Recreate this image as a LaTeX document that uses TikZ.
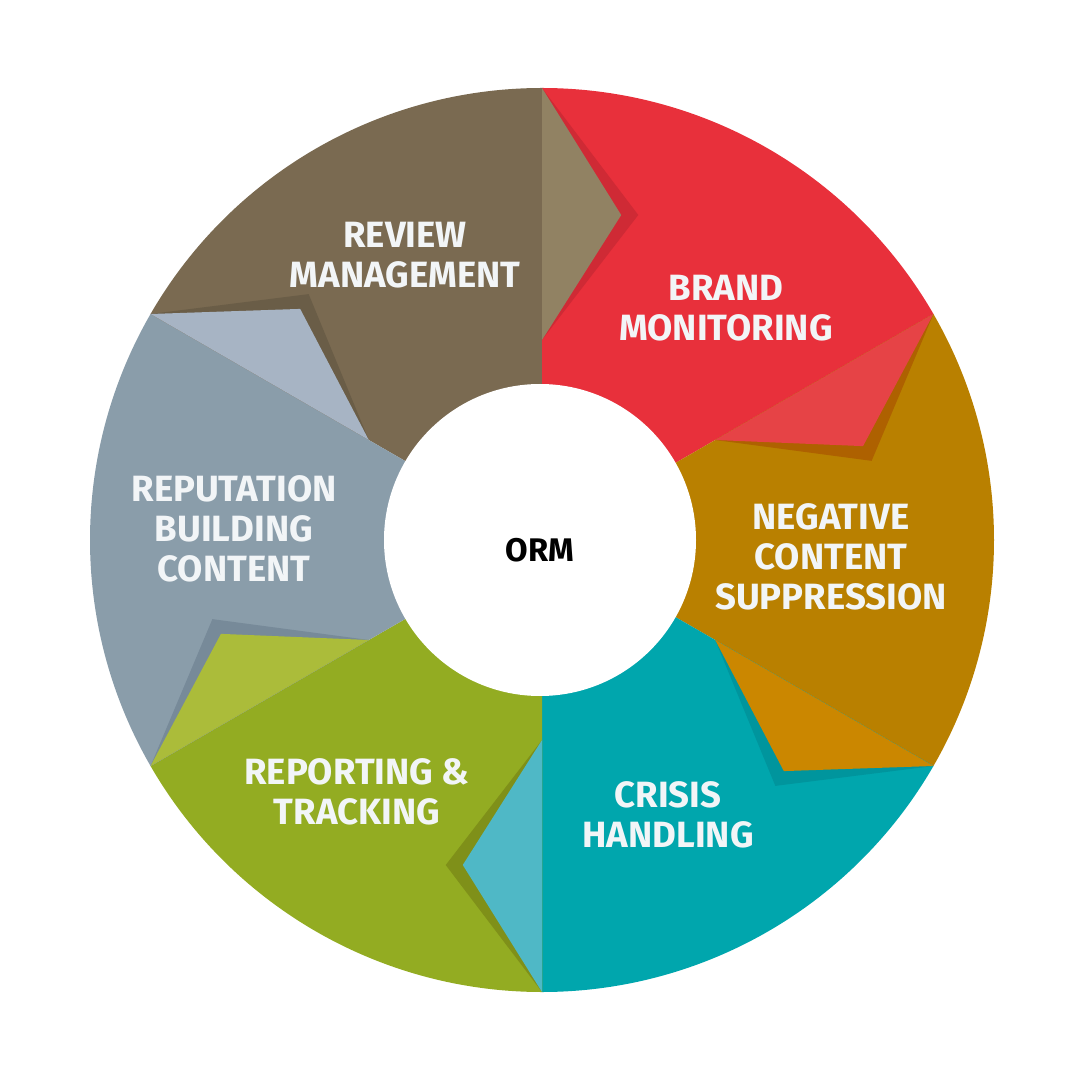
\documentclass[tikz,border=0pt]{standalone}
\usepackage{fontspec}
\setmainfont{Fira Sans}
\usetikzlibrary{positioning}
\definecolor{revbrown}{HTML}{7A6A51}
\definecolor{revlight}{HTML}{918263}
\definecolor{revshadow}{HTML}{6A5D47}
\definecolor{brandred}{HTML}{E8303B}
\definecolor{brandlight}{HTML}{E64346}
\definecolor{brandshadow}{HTML}{CF2A35}
\definecolor{neggold}{HTML}{B98000}
\definecolor{neglight}{HTML}{CB8700}
\definecolor{negshadow}{HTML}{AE6100}
\definecolor{crisisteal}{HTML}{00A6AD}
\definecolor{crisislight}{HTML}{4FB8C6}
\definecolor{crisisshadow}{HTML}{00959D}
\definecolor{repgreen}{HTML}{93AC22}
\definecolor{replight}{HTML}{ABBC3A}
\definecolor{repshadow}{HTML}{7F9019}
\definecolor{reputgray}{HTML}{8A9DAA}
\definecolor{reputlight}{HTML}{A7B4C4}
\definecolor{reputshadow}{HTML}{778A99}
\definecolor{labelwhite}{HTML}{F2F5F7}
\tikzset{
  seglabel/.style={text=labelwhite, align=center, font=\fontsize{10.4}{11.4}\selectfont\bfseries, inner sep=0pt},
  hublabel/.style={text=black, font=\fontsize{9.3}{10}\selectfont\bfseries, inner sep=0pt}
}

\begin{document}
\begin{tikzpicture}
	\useasboundingbox (-5.4,-5.4) rectangle (5.4,5.4);
	%segments
	\foreach \a/\c in {150/revbrown, 90/brandred, 30/neggold, -30/crisisteal, -90/repgreen, -150/reputgray}
		\fill[\c] (0.02,0) -- ++(\a:4.52) arc[start angle=\a, end angle=\a-60, radius=4.52] -- cycle;
	%arrow tips with shadows
	\foreach \b/\lt/\sh in {90/revlight/brandshadow, 30/brandlight/negshadow, -30/neglight/crisisshadow, -90/crisislight/repshadow, -150/replight/reputshadow, 150/reputlight/revshadow}{
		\fill[\sh] ([shift={(\b:4.52)}]0.02,0) -- ([shift={(\b-16.5:3.39)}]0.02,0) -- ([shift={(\b:2.0)}]0.02,0) -- cycle;
		\fill[\lt] ([shift={(\b:4.52)}]0.02,0) -- ([shift={(\b-13.7:3.345)}]0.02,0) -- ([shift={(\b:2.0)}]0.02,0) -- cycle;
	}
	%hub
	\fill[white] (0,0) circle (1.56);
	\node[hublabel] (orm) at (0,-0.1) {ORM};
	%labels
	\node[seglabel] (review) at (-1.35,2.85) {REVIEW\\MANAGEMENT};
	\node[seglabel] (brand) at (1.86,2.32) {BRAND\\MONITORING};
	\node[seglabel] (negative) at (2.91,-0.17) {NEGATIVE\\CONTENT\\SUPPRESSION};
	\node[seglabel] (crisis) at (1.28,-2.75) {CRISIS\\HANDLING};
	\node[seglabel] (reporting) at (-1.83,-2.52) {REPORTING \&\\TRACKING};
	\node[seglabel] (reputation) at (-3.06,0.11) {REPUTATION\\BUILDING\\CONTENT};
\end{tikzpicture}
\end{document}
